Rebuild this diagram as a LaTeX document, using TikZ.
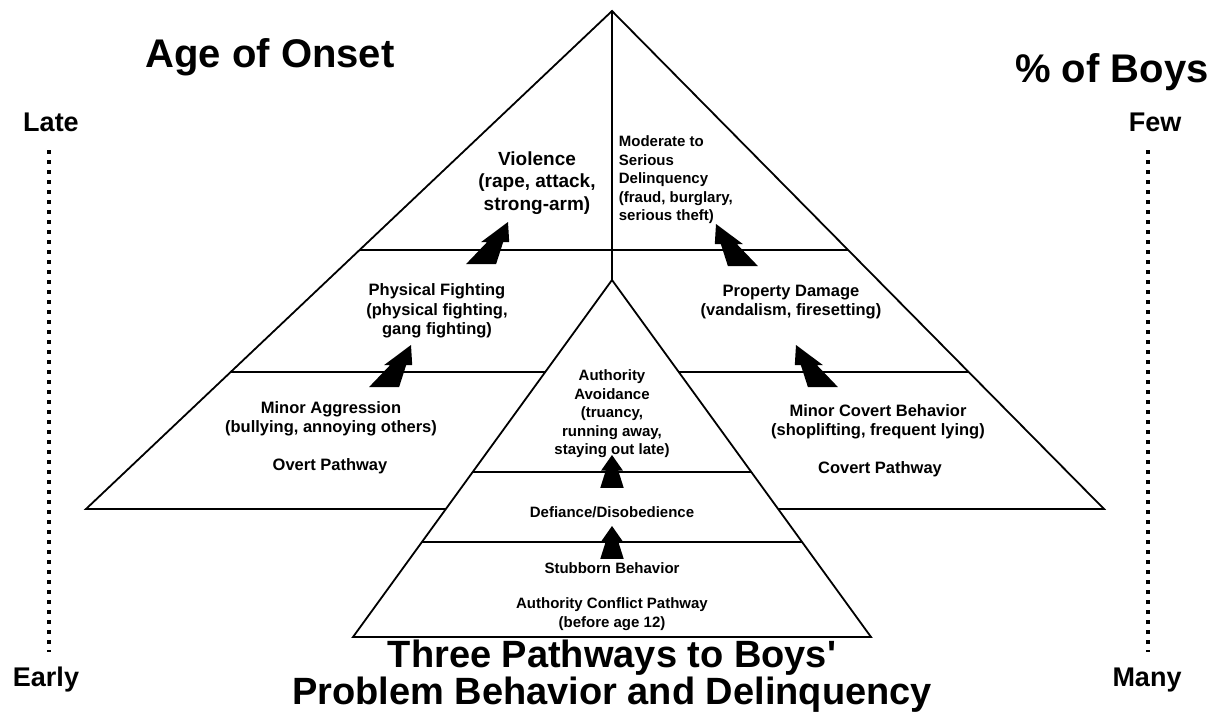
\documentclass[tikz,border=0pt]{standalone}
\usepackage{fontspec}
\setmainfont{Liberation Sans}
\newfontfamily\titlefont{Liberation Sans}
\usetikzlibrary{calc}

\begin{document}
\begin{tikzpicture}[x=1pt, y=-1pt, line width=1.8pt,
  txt/.style={font=\fontsize{15}{18.5}\selectfont\bfseries, align=center, inner sep=0pt},
  wide/.style={txt, font=\fontsize{16.5}{19.5}\selectfont\bfseries},
  head/.style={font=\titlefont\fontsize{40}{34}\selectfont\bfseries, align=center, inner sep=0pt},
  ends/.style={font=\fontsize{27}{30}\selectfont\bfseries, inner sep=0pt},
  dotline/.style={line width=4pt, dash pattern=on 4pt off 6pt},
  tierarrow/.pic={
    \fill (0,0) -- (14,20) -- (8,20) -- (15,42) -- (-15,42) -- (-8,20) -- (-14,20) -- cycle;
  }]
  \useasboundingbox (0,0) rectangle (1216,712);
  % the two pyramids
  \coordinate (top) at (612,11);
  \coordinate (bl) at (86,509);
  \coordinate (br) at (1104,509);
  \coordinate (itop) at (612,280);
  \coordinate (ibl) at (353,637);
  \coordinate (ibr) at (871,637);
  \draw ($(itop)!0.6415!(ibl)$) -- (bl) -- (top) -- (br) -- ($(itop)!0.6415!(ibr)$);
  \draw (top) -- (itop);
  \draw (ibl) -- (itop) -- (ibr) -- cycle;
  % levels
  \draw ($(top)!0.4799!(bl)$) -- ($(top)!0.4799!(br)$);
  \draw ($(top)!0.7249!(bl)$) -- ($(itop)!0.2577!(ibl)$);
  \draw ($(itop)!0.2577!(ibr)$) -- ($(top)!0.7249!(br)$);
  \draw ($(itop)!0.5378!(ibl)$) -- ($(itop)!0.5378!(ibr)$);
  \draw ($(itop)!0.7339!(ibl)$) -- ($(itop)!0.7339!(ibr)$);

  % overt pathway
  \node[txt, font=\fontsize{19}{22.5}\selectfont\bfseries] (violence) at (537,183) {Violence\\(rape, attack,\\strong-arm)};
  \node[wide] (fight) at (437,311) {Physical Fighting\\(physical fighting,\\gang fighting)};
  \node[wide] (minagg) at (331,419) {Minor Aggression\\(bullying, annoying others)};
  \node[wide] (overt) at (330,466) {Overt Pathway};
  % covert pathway
  \node[txt, align=left, anchor=north west] (delinq) at (618,135) {Moderate to\\Serious\\Delinquency\\(fraud, burglary,\\serious theft)};
  \node[wide] (damage) at (791,302) {Property Damage\\(vandalism, firesetting)};
  \node[wide] (mincov) at (878,422) {Minor Covert Behavior\\(shoplifting, frequent lying)};
  \node[wide] (covert) at (880,469) {Covert Pathway};
  % authority conflict pathway
  \node[txt] (avoid) at (612,414) {Authority\\Avoidance\\(truancy,\\running away,\\staying out late)};
  \node[txt] (defy) at (612,512) {Defiance/Disobedience};
  \node[txt] (stubborn) at (612,568) {Stubborn Behavior};
  \node[txt] (conflict) at (612,614) {Authority Conflict Pathway\\(before age 12)};

  \pic[xslant=0.64] at (508,222) {tierarrow};
  \pic[xslant=0.64] at (411,345) {tierarrow};
  \pic[xslant=-0.64] at (716,224) {tierarrow};
  \pic[xslant=-0.64] at (796,345) {tierarrow};
  \pic[scale=0.78] at (612,455) {tierarrow};
  \pic[scale=0.78] at (612,526) {tierarrow};

  % axes at the sides
  \node[head] (onset) at (270,57) {Age of Onset};
  \node[head] (boys) at (1112,72) {\% of Boys};
  \node[ends] (late) at (51,122) {Late};
  \node[ends] (early) at (46,680) {Early};
  \node[ends] (few) at (1155,122) {Few};
  \node[ends] (many) at (1147,680) {Many};
  \draw[dotline] (49,150) -- (49,652);
  \draw[dotline] (1148,150) -- (1148,652);

  \node[head, font=\titlefont\fontsize{38}{34}\selectfont\bfseries] (title) at (612,676) {Three Pathways to Boys'\\Problem Behavior and Delinquency};
\end{tikzpicture}
\end{document}
